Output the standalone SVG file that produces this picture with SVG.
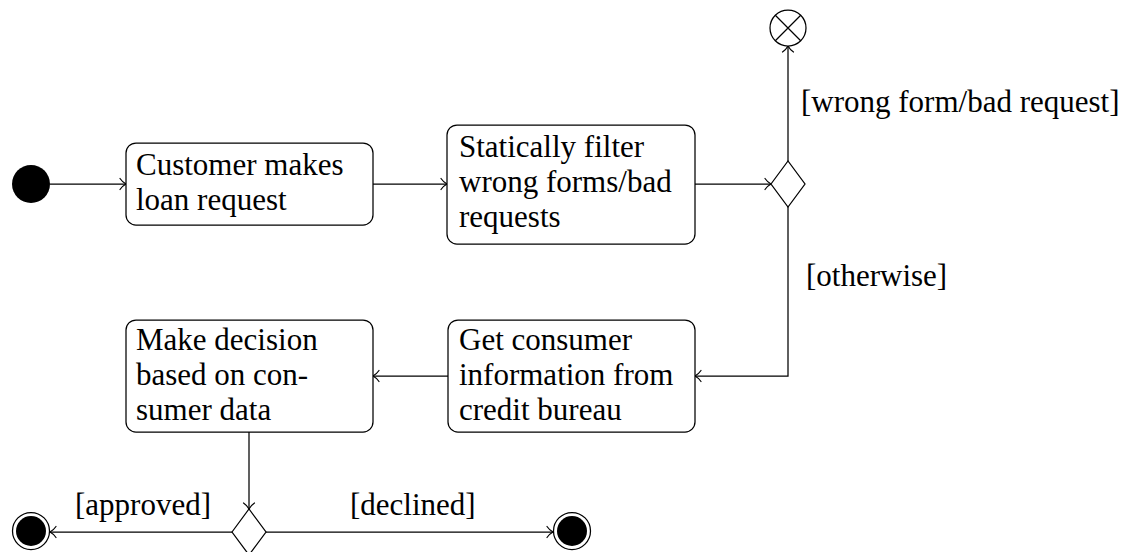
<svg xmlns="http://www.w3.org/2000/svg" width="1125" height="552" viewBox="0 0 1125 552">
<defs>
  <marker id="arr" markerUnits="userSpaceOnUse" markerWidth="14" markerHeight="14" viewBox="-10 -7 12 14" refX="0" refY="0" orient="auto">
    <path d="M -6,-5.5 C -4,-2.5 -1.5,-0.8 0,0 C -1.5,0.8 -4,2.5 -6,5.5" fill="none" stroke="#000" stroke-width="1.2" stroke-linecap="round"/>
  </marker>
</defs>
<rect width="1125" height="552" fill="#fff"/>
<g id="connectors" fill="none" stroke="#000" stroke-width="1.25" marker-end="url(#arr)">
  <path d="M 50,184 L 126,184"/>
  <path d="M 373,184 L 447,184"/>
  <path d="M 695,184 L 771,184"/>
  <path d="M 788,161 L 788,46"/>
  <path d="M 788,207 L 788,376 L 695,376"/>
  <path d="M 448,376 L 373,376"/>
  <path d="M 249,432 L 249,509"/>
  <path d="M 232,532 L 50,532"/>
  <path d="M 266,532 L 553,532"/>
</g>
<g id="labels">
  <text x="801" y="112" style="font-family:'Liberation Serif';font-size:31px">[wrong form/bad request]</text>
  <text x="806" y="286" style="font-family:'Liberation Serif';font-size:31px">[otherwise]</text>
  <text x="75" y="515" style="font-family:'Liberation Serif';font-size:31px">[approved]</text>
  <text x="350" y="515" style="font-family:'Liberation Serif';font-size:31px">[declined]</text>
</g>
<g id="start">
  <circle cx="31" cy="184" r="19" fill="#000"/>
</g>
<g id="customer">
  <rect x="126" y="143" width="247" height="82" rx="10" fill="#fff" stroke="#000" stroke-width="1.25"/>
  <text x="136" y="175" style="font-family:'Liberation Serif';font-size:31px">Customer makes</text>
  <text x="136" y="210" style="font-family:'Liberation Serif';font-size:31px">loan request</text>
</g>
<g id="filter">
  <rect x="447" y="125" width="248" height="119" rx="10" fill="#fff" stroke="#000" stroke-width="1.25"/>
  <text x="459" y="157" style="font-family:'Liberation Serif';font-size:31px">Statically filter</text>
  <text x="459" y="192" style="font-family:'Liberation Serif';font-size:31px">wrong forms/bad</text>
  <text x="459" y="227" style="font-family:'Liberation Serif';font-size:31px">requests</text>
</g>
<g id="decision1">
  <polygon points="771,184 788,161 805,184 788,207" fill="#fff" stroke="#000" stroke-width="1.25"/>
</g>
<g id="flowfinal">
  <circle cx="788" cy="28" r="18" fill="#fff" stroke="#000" stroke-width="1.25"/>
  <path d="M 775.3,15.3 L 800.7,40.7 M 800.7,15.3 L 775.3,40.7" stroke="#000" stroke-width="1.25"/>
</g>
<g id="bureau">
  <rect x="448" y="320" width="247" height="112" rx="10" fill="#fff" stroke="#000" stroke-width="1.25"/>
  <text x="459" y="350" style="font-family:'Liberation Serif';font-size:31px">Get consumer</text>
  <text x="459" y="385" style="font-family:'Liberation Serif';font-size:31px">information from</text>
  <text x="459" y="420" style="font-family:'Liberation Serif';font-size:31px">credit bureau</text>
</g>
<g id="makedecision">
  <rect x="126" y="320" width="247" height="112" rx="10" fill="#fff" stroke="#000" stroke-width="1.25"/>
  <text x="136" y="350" style="font-family:'Liberation Serif';font-size:31px">Make decision</text>
  <text x="136" y="385" style="font-family:'Liberation Serif';font-size:31px">based on con-</text>
  <text x="136" y="420" style="font-family:'Liberation Serif';font-size:31px">sumer data</text>
</g>
<g id="decision2">
  <polygon points="232,532 249,509 266,532 249,555" fill="#fff" stroke="#000" stroke-width="1.25"/>
</g>
<g id="final-approved">
  <circle cx="31" cy="531" r="18.5" fill="#fff" stroke="#000" stroke-width="1.25"/>
  <circle cx="31" cy="531" r="15" fill="#000"/>
</g>
<g id="final-declined">
  <circle cx="572" cy="531" r="18.5" fill="#fff" stroke="#000" stroke-width="1.25"/>
  <circle cx="572" cy="531" r="15" fill="#000"/>
</g>
</svg>
